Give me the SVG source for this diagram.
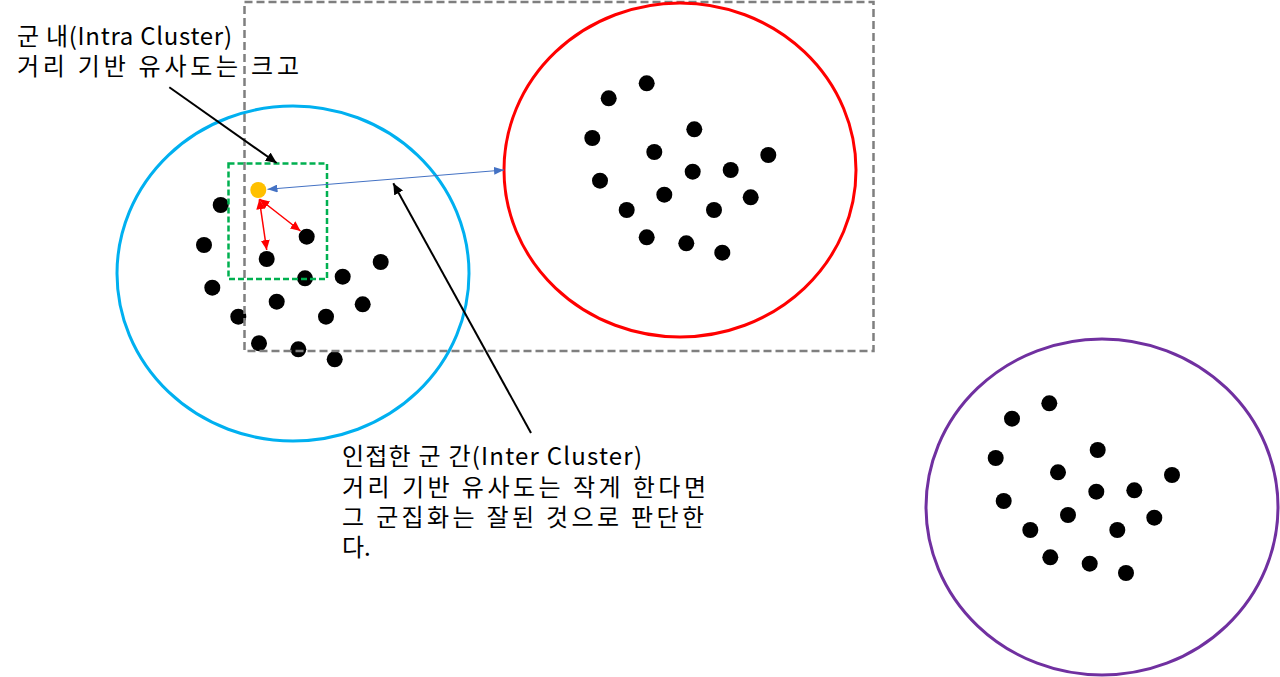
<svg xmlns="http://www.w3.org/2000/svg" width="1280" height="677" viewBox="0 0 1280 677">
<style>
.dot{fill:#000000}
.lbl{font-family:"Noto Sans CJK KR","Noto Sans",sans-serif;font-size:24px;fill:#000000}
.cl{fill:none;stroke-width:3}
</style>
<defs>
<marker id="ahK" markerUnits="userSpaceOnUse" markerWidth="12" markerHeight="10" refX="11" refY="5" orient="auto-start-reverse"><path d="M0,0 L11,5 L0,10 z" fill="#000000"/></marker>
<marker id="ahB" markerUnits="userSpaceOnUse" markerWidth="10" markerHeight="8" refX="10" refY="4" orient="auto-start-reverse"><path d="M0,0 L10,4 L0,8 z" fill="#4472C4"/></marker>
<marker id="ahR" markerUnits="userSpaceOnUse" markerWidth="10" markerHeight="9" refX="10" refY="4.5" orient="auto-start-reverse"><path d="M0,0 L10,4.5 L0,9 z" fill="#FF0000"/></marker>
</defs>
<rect width="1280" height="677" fill="#ffffff"/>

<g id="cluster-blue-points">
<circle class="dot" cx="220.7" cy="205" r="8"/>
<circle class="dot" cx="204" cy="245" r="8"/>
<circle class="dot" cx="306.7" cy="236.7" r="8"/>
<circle class="dot" cx="266.7" cy="259" r="8"/>
<circle class="dot" cx="380.7" cy="262" r="8"/>
<circle class="dot" cx="305" cy="278.3" r="8"/>
<circle class="dot" cx="342.7" cy="276.7" r="8"/>
<circle class="dot" cx="212.3" cy="287.7" r="8"/>
<circle class="dot" cx="276.7" cy="301.7" r="8"/>
<circle class="dot" cx="362.7" cy="304.3" r="8"/>
<circle class="dot" cx="238.3" cy="316.7" r="8"/>
<circle class="dot" cx="326" cy="316.7" r="8"/>
<circle class="dot" cx="259" cy="343.3" r="8"/>
<circle class="dot" cx="298.3" cy="349.3" r="8"/>
<circle class="dot" cx="334.7" cy="359.3" r="8"/>
<circle cx="258.3" cy="190" r="8" fill="#FFC000"/>
</g>

<g id="cluster-red-points">
<circle class="dot" cx="646.7" cy="83.3" r="8"/>
<circle class="dot" cx="608.7" cy="98.3" r="8"/>
<circle class="dot" cx="592.3" cy="138" r="8"/>
<circle class="dot" cx="694.3" cy="129.3" r="8"/>
<circle class="dot" cx="654.3" cy="152" r="8"/>
<circle class="dot" cx="768.3" cy="155" r="8"/>
<circle class="dot" cx="692.7" cy="171.7" r="8"/>
<circle class="dot" cx="730.7" cy="170" r="8"/>
<circle class="dot" cx="600" cy="180.7" r="8"/>
<circle class="dot" cx="664.3" cy="194.7" r="8"/>
<circle class="dot" cx="750.7" cy="197.3" r="8"/>
<circle class="dot" cx="626.7" cy="210" r="8"/>
<circle class="dot" cx="714" cy="210" r="8"/>
<circle class="dot" cx="646.7" cy="237.3" r="8"/>
<circle class="dot" cx="686.3" cy="243.3" r="8"/>
<circle class="dot" cx="722.3" cy="252.7" r="8"/>
</g>

<g id="cluster-purple-points">
<circle class="dot" cx="1049.3" cy="403.3" r="8"/>
<circle class="dot" cx="1012" cy="418.7" r="8"/>
<circle class="dot" cx="995.7" cy="458" r="8"/>
<circle class="dot" cx="1097.7" cy="450" r="8"/>
<circle class="dot" cx="1058" cy="472.3" r="8"/>
<circle class="dot" cx="1172" cy="475" r="8"/>
<circle class="dot" cx="1096.3" cy="491.7" r="8"/>
<circle class="dot" cx="1134.3" cy="490.3" r="8"/>
<circle class="dot" cx="1003.7" cy="501" r="8"/>
<circle class="dot" cx="1068" cy="515" r="8"/>
<circle class="dot" cx="1154.3" cy="517.7" r="8"/>
<circle class="dot" cx="1030.3" cy="530" r="8"/>
<circle class="dot" cx="1117.3" cy="530" r="8"/>
<circle class="dot" cx="1050.3" cy="557.3" r="8"/>
<circle class="dot" cx="1089.7" cy="563.7" r="8"/>
<circle class="dot" cx="1126" cy="573" r="8"/>
</g>

<g id="inter-region">
<rect x="244.5" y="2" width="629" height="349" fill="none" stroke="#7F7F7F" stroke-width="2.5" stroke-dasharray="8,4"/>
</g>

<g id="cluster-blue">
<ellipse class="cl" cx="293" cy="273.5" rx="176" ry="167.5" stroke="#00B0F0"/>
</g>
<g id="cluster-red">
<ellipse class="cl" cx="680" cy="170" rx="176" ry="167" stroke="#FF0000"/>
</g>
<g id="cluster-purple">
<ellipse class="cl" cx="1102" cy="507" rx="176" ry="168" stroke="#7030A0" stroke-width="2.5"/>
</g>

<g id="intra-region">
<rect x="228.5" y="163.5" width="98.5" height="115.5" fill="none" stroke="#00B050" stroke-width="2.5" stroke-dasharray="6,3"/>
</g>

<g id="connectors">
<line x1="267.5" y1="189.3" x2="504" y2="170" stroke="#4472C4" stroke-width="1" marker-start="url(#ahB)" marker-end="url(#ahB)"/>
<line x1="259.5" y1="199" x2="300.5" y2="231" stroke="#FF0000" stroke-width="1.5" marker-start="url(#ahR)" marker-end="url(#ahR)"/>
<line x1="259.3" y1="199.3" x2="266.7" y2="250" stroke="#FF0000" stroke-width="1.5" marker-start="url(#ahR)" marker-end="url(#ahR)"/>
<line x1="169.3" y1="87.3" x2="276.7" y2="163" stroke="#000000" stroke-width="2" marker-end="url(#ahK)"/>
<line x1="531" y1="433" x2="393.3" y2="183.3" stroke="#000000" stroke-width="2" marker-end="url(#ahK)"/>
</g>

<g id="label-intra">
<text class="lbl" x="17" y="45" textLength="215" lengthAdjust="spacing">군 내(Intra Cluster)</text>
<text class="lbl" x="17" y="75" textLength="282" lengthAdjust="spacing">거리 기반 유사도는 크고</text>
</g>

<g id="label-inter">
<text class="lbl" x="342" y="465" textLength="300" lengthAdjust="spacing">인접한 군 간(Inter Cluster)</text>
<text class="lbl" x="342" y="496" textLength="364" lengthAdjust="spacing">거리 기반 유사도는 작게 한다면</text>
<text class="lbl" x="342" y="526" textLength="362" lengthAdjust="spacing">그 군집화는 잘된 것으로 판단한</text>
<text class="lbl" x="342" y="556">다.</text>
</g>
</svg>
